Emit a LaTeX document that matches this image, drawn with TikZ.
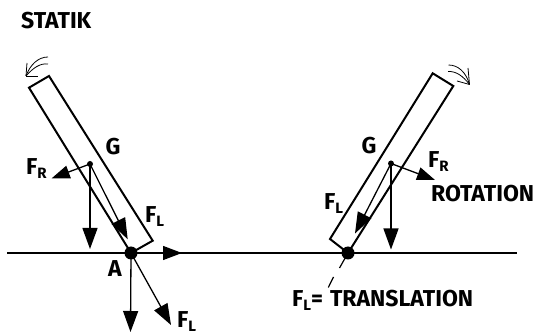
\documentclass[tikz,border=0pt]{standalone}
\usepackage{fontspec}
\setmainfont{Fira Sans}
\usetikzlibrary{arrows.meta}
\tikzset{
  x=1pt,y=-1pt,
  bar/.style={draw=black,line width=2pt,line join=miter},
  ground/.style={draw=black,line width=1.6pt},
  force/.style={draw=black,line width=1.3pt,-{Triangle[length=21pt,width=15pt]}},
  smallforce/.style={draw=black,line width=1.3pt,-{Triangle[length=18pt,width=13pt]}},
  spin/.style={draw=black,line width=.8pt},
  pivot/.style={circle,fill=black,inner sep=0pt,minimum size=13pt},
  cog/.style={circle,fill=black,inner sep=0pt,minimum size=6pt},
  lab/.style={font=\bfseries\fontsize{23}{23}\selectfont,inner sep=0pt,anchor=base west},
}
\newcommand{\sbs}[1]{\raisebox{-4pt}{\fontsize{15}{15}\selectfont #1}}
\begin{document}
\begin{tikzpicture}
\useasboundingbox (0,0) rectangle (535,336);
\coordinate (g1) at (7,253);
\coordinate (g2) at (517,253);
\draw[ground] (g1) -- (g2);
% left bar
\node[pivot] (A) at (131,253) {};
\node[cog] (GL) at (90,164) {};
\draw[bar] (A.center) -- (29,87.7) -- (49,76) -- (152.7,240.7) -- cycle;
\coordinate (t1) at (51.7,178.3);
\coordinate (t2) at (90,249);
\coordinate (t3) at (127.7,239.3);
\coordinate (t4) at (130.5,332);
\coordinate (t5) at (182,253);
\coordinate (t6) at (171,325);
\draw[smallforce] (GL.center) -- (t1);
\draw[force] (GL.center) -- (t2);
\draw[force] (GL.center) -- (t3);
\draw[force] (A.center) -- (t4);
\draw[smallforce,-{Triangle[length=19pt,width=14pt]}] (A.center) -- (t5);
\draw[force] (A.center) -- (t6);
% left spin arrow
\coordinate (s1) at (48,57);
\coordinate (s2) at (48,64);
\coordinate (s3) at (26,76);
\draw[spin] (s1) .. controls (38,57) and (30,65) .. (s3);
\draw[spin] (s2) .. controls (40,63) and (33,68) .. (s3);
\draw[spin] (s3) -- (27,63);
\draw[spin] (s3) -- (38,76);
% right bar
\node[pivot] (B) at (348,253) {};
\node[cog] (GR) at (391,163.5) {};
\draw[bar] (B.center) -- (330,239) -- (432.7,73.3) -- (453.3,86) -- cycle;
\coordinate (u1) at (435,180);
\coordinate (u2) at (391,249.5);
\coordinate (u3) at (355,233.5);
\draw[smallforce] (GR.center) -- (u1);
\draw[force] (GR.center) -- (u2);
\draw[force] (GR.center) -- (u3);
\coordinate (d1) at (339.5,268);
\coordinate (d2) at (333.5,277);
\coordinate (d3) at (328.3,287.5);
\draw[draw=black,line width=1.2pt] (B.center) -- (d1);
\draw[draw=black,line width=1.2pt] (d2) -- (d3);
% right spin arrow
\coordinate (v1) at (448.5,65);
\coordinate (v2) at (448,71.5);
\coordinate (v3) at (469.5,84.5);
\draw[spin] (v1) .. controls (458,65) and (466,72) .. (v3);
\draw[spin] (v2) .. controls (456,71) and (463,76) .. (v3);
\draw[spin] (v3) -- (468,68);
\draw[spin] (v3) -- (457,81);
% labels
\node[lab] (tStatik) at (21,29) {STATIK};
\node[lab] (tG1) at (105.5,155) {G};
\node[lab] (tFR1) at (26,175) {F\sbs{R}};
\node[lab] (tFL1) at (145,223) {F\sbs{L}};
\node[lab] (tA) at (108,277) {A};
\node[lab] (tFL2) at (177,327) {F\sbs{L}};
\node[lab] (tG2) at (361.5,154) {G};
\node[lab] (tFR2) at (428,168) {F\sbs{R}};
\node[lab] (tRot) at (431,202) {ROTATION};
\node[lab] (tFL3) at (324,210) {F\sbs{L}};
\node[lab] (tFL4) at (292,307) {F\sbs{L}=\hspace{7pt}TRANSLATION};
\end{tikzpicture}
\end{document}
